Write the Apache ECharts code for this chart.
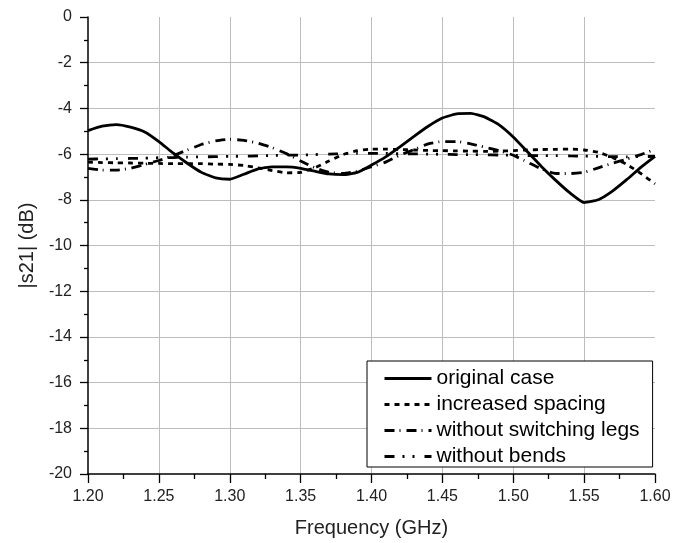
<!DOCTYPE html>
<html>
<head>
<meta charset="utf-8">
<script src="https://cdn.jsdelivr.net/npm/echarts@6/dist/echarts.min.js"></script>
<style>
html,body{margin:0;padding:0;background:#fff;}
#chart{width:695px;height:543px;}
</style>
</head>
<body>
<div id="chart"></div>
<script>
const freq = [1.20,1.21,1.22,1.23,1.24,1.25,1.26,1.27,1.28,1.29,1.30,1.31,1.32,1.33,1.34,1.35,1.36,1.37,1.38,1.39,1.40,1.41,1.42,1.43,1.44,1.45,1.46,1.47,1.48,1.49,1.50,1.51,1.52,1.53,1.54,1.55,1.56,1.57,1.58,1.59,1.60];
const originalCase = [-4.97,-4.78,-4.71,-4.82,-5.03,-5.45,-5.95,-6.40,-6.80,-7.04,-7.10,-6.88,-6.65,-6.56,-6.56,-6.62,-6.75,-6.87,-6.90,-6.80,-6.48,-6.12,-5.68,-5.22,-4.78,-4.42,-4.24,-4.22,-4.38,-4.72,-5.25,-5.90,-6.55,-7.15,-7.70,-8.12,-8.00,-7.62,-7.12,-6.58,-6.10];
const increasedSpacing = [-6.35,-6.37,-6.38,-6.39,-6.40,-6.41,-6.42,-6.42,-6.42,-6.44,-6.45,-6.50,-6.60,-6.72,-6.82,-6.80,-6.60,-6.30,-6.02,-5.85,-5.78,-5.78,-5.80,-5.82,-5.84,-5.85,-5.86,-5.87,-5.88,-5.87,-5.85,-5.82,-5.80,-5.79,-5.78,-5.82,-5.92,-6.15,-6.45,-6.85,-7.30];
const withoutSwitchingLegs = [-6.62,-6.70,-6.70,-6.62,-6.45,-6.28,-6.07,-5.82,-5.58,-5.42,-5.35,-5.40,-5.52,-5.72,-5.98,-6.30,-6.60,-6.80,-6.85,-6.75,-6.55,-6.35,-6.05,-5.80,-5.55,-5.45,-5.45,-5.55,-5.70,-5.85,-6.05,-6.35,-6.65,-6.85,-6.85,-6.80,-6.60,-6.40,-6.22,-6.02,-5.80];
const withoutBends = [-6.22,-6.21,-6.20,-6.19,-6.18,-6.16,-6.15,-6.13,-6.12,-6.11,-6.10,-6.09,-6.08,-6.06,-6.05,-6.04,-6.02,-6.00,-5.98,-5.97,-5.97,-5.97,-5.98,-5.99,-6.00,-6.01,-6.02,-6.02,-6.03,-6.04,-6.05,-6.06,-6.07,-6.07,-6.08,-6.09,-6.10,-6.11,-6.12,-6.11,-6.10];
const seriesNames = ['original case','increased spacing','without switching legs','without bends'];

const FONT = '"Liberation Sans", Arial, sans-serif';
const pair = (ys) => freq.map((f, i) => [f, ys[i]]);

const chart = echarts.init(document.getElementById('chart'), null, {renderer: 'canvas'});
const lineBase = {type: 'line', symbol: 'none', smooth: 0.15, z: 3};
chart.setOption({
  animation: false,
  backgroundColor: '#fff',
  grid: {left: 88, right: 40, top: 17, bottom: 66, show: false},
  xAxis: {
    type: 'value', min: 1.2, max: 1.6, interval: 0.05,
    name: 'Frequency (GHz)', nameLocation: 'middle', nameGap: 44,
    nameTextStyle: {fontFamily: FONT, fontSize: 20, color: '#222'},
    axisLine: {show: true, onZero: false, lineStyle: {color: '#000', width: 1.5}},
    axisTick: {show: true, inside: false, length: 9, lineStyle: {color: '#000', width: 1.3}},
    minorTick: {show: true, splitNumber: 2, length: 5, lineStyle: {color: '#000', width: 1.3}},
    axisLabel: {margin: 15, fontFamily: FONT, fontSize: 16, color: '#222', formatter: v => v.toFixed(2)},
    splitLine: {show: true, showMinLine: false, showMaxLine: false, lineStyle: {color: '#bdbdbd', width: 1}}
  },
  yAxis: {
    type: 'value', min: -20, max: 0, interval: 2,
    name: '|s21| (dB)', nameLocation: 'middle', nameGap: 51,
    nameTextStyle: {fontFamily: FONT, fontSize: 20, color: '#222'},
    axisLine: {show: true, onZero: false, lineStyle: {color: '#000', width: 1.5}},
    axisTick: {show: true, inside: false, length: 8, lineStyle: {color: '#000', width: 1.3}},
    minorTick: {show: true, splitNumber: 2, length: 4, lineStyle: {color: '#000', width: 1.3}},
    axisLabel: {margin: 16, fontFamily: FONT, fontSize: 16, color: '#222'},
    splitLine: {show: true, showMinLine: false, showMaxLine: false, lineStyle: {color: '#bdbdbd', width: 1}}
  },
  legend: {
    orient: 'vertical', left: 367, top: 361,
    backgroundColor: '#fff', borderColor: '#000', borderWidth: 1,
    padding: [7, 13, 0, 16],
    itemWidth: 47, itemHeight: 20, itemGap: 5,
    itemStyle: {opacity: 0},
    lineStyle: {width: 3},
    textStyle: {fontFamily: FONT, fontSize: 21, color: '#000', lineHeight: 20},
    data: seriesNames
  },
  series: [
    Object.assign({}, lineBase, {name: seriesNames[0], data: pair(originalCase),
      lineStyle: {color: '#000', width: 2.8, type: 'solid'}, itemStyle: {color: '#000'}}),
    Object.assign({}, lineBase, {name: seriesNames[1], data: pair(increasedSpacing),
      lineStyle: {color: '#000', width: 2.8, type: [5, 5]}, itemStyle: {color: '#000'}}),
    Object.assign({}, lineBase, {name: seriesNames[2], data: pair(withoutSwitchingLegs),
      lineStyle: {color: '#000', width: 2.8, type: [10, 5, 1, 6]}, itemStyle: {color: '#000'}}),
    Object.assign({}, lineBase, {name: seriesNames[3], data: pair(withoutBends),
      lineStyle: {color: '#000', width: 2.8, type: [10, 8, 2, 8, 2, 10]}, itemStyle: {color: '#000'}})
  ]
});
</script>
</body>
</html>
